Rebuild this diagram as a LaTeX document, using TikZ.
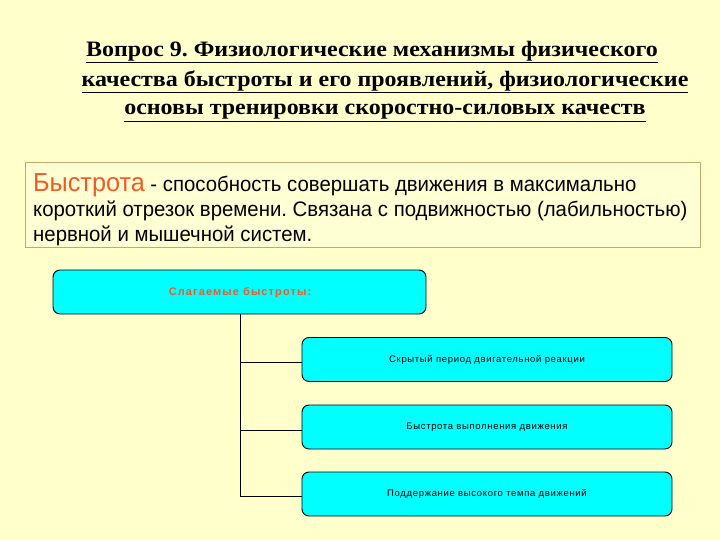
\documentclass[tikz,border=0pt]{standalone}
\usepackage{fontspec}
\setmainfont{Liberation Serif}
\newfontfamily\titlef[FakeStretch=1.09]{Liberation Serif}
\newfontfamily\arialf{Liberation Sans}
\newfontfamily\arialn[FakeStretch=0.97]{Liberation Sans}
\newfontfamily\arials[LetterSpace=7]{Liberation Sans}
\newfontfamily\arialt[LetterSpace=10]{Liberation Sans}
\definecolor{bgyel}{HTML}{FFFFCC}
\definecolor{boxbrd}{HTML}{C8A868}
\definecolor{boxfill}{HTML}{FFFFD4}
\definecolor{orred}{HTML}{F05A28}
\definecolor{cyanfill}{HTML}{00FFFF}
\frenchspacing
\tikzset{
  ttl/.style={font=\titlef\bfseries\fontsize{22}{26}\selectfont, inner sep=0pt, anchor=center},
  deftxt/.style={anchor=base west, inner sep=0pt, font=\arialn\fontsize{21}{24}\selectfont},
  cbox/.style={draw=black, line width=0.9pt, fill=cyanfill, rounded corners=7pt, inner sep=0pt},
  small/.style={font=\arials\fontsize{9.5}{11}\selectfont},
  conn/.style={draw=black, line width=1pt}
}
\begin{document}
\begin{tikzpicture}[x=1pt,y=-1pt]
\fill[bgyel] (0,0) rectangle (720,540);
\useasboundingbox (0,0) rectangle (720,540);
% title
\node[ttl] (t1) at (372,52) {\underline{Вопрос 9. Физиологические механизмы физического}};
\node[ttl] (t2) at (385,82) {\underline{качества быстроты и его проявлений, физиологические}};
\node[ttl] (t3) at (385,113) {\underline{основы тренировки скоростно-силовых качеств}};
% definition box
\draw[boxbrd, fill=boxfill, line width=0.8pt] (25,162) rectangle (700,247);
\node[deftxt] (d1) at (33,192)
  {{\color{orred}\fontsize{26}{28}\selectfont Быстрота} - способность совершать движения в максимально};
\node[deftxt] (d2) at (33,217)
  {короткий отрезок времени. Связана с подвижностью (лабильностью)};
\node[deftxt] (d3) at (33,241)
  {нервной и мышечной систем.};
% boxes
\node[cbox, minimum width=373pt, minimum height=44pt] (top) at (239.5,292) {};
\node[font=\arialt\bfseries\fontsize{11}{13}\selectfont, text=orred] (toplbl) at (240,293) {Слагаемые быстроты:};
\node[cbox, minimum width=370pt, minimum height=44pt, small] (b1) at (487,359.5) {Скрытый период двигательной реакции};
\node[cbox, minimum width=370pt, minimum height=44pt, small] (b2) at (487,427) {Быстрота выполнения движения};
\node[cbox, minimum width=370pt, minimum height=44pt, small] (b3) at (487,494) {Поддержание высокого темпа движений};
\coordinate (v0) at (240,314);
\coordinate (v1) at (240,362);
\coordinate (v2) at (240,430);
\coordinate (v3) at (240,496);
\draw[conn] (top.south -| v0) -- (v3) -- (b3.west |- v3);
\draw[conn] (v1) -- (b1.west |- v1);
\draw[conn] (v2) -- (b2.west |- v2);
\end{tikzpicture}
\end{document}
